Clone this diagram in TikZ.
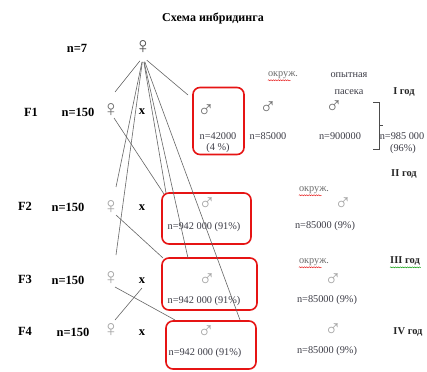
\documentclass[tikz,border=0pt]{standalone}
\usepackage{fontspec}
\setmainfont{Liberation Serif}
\usetikzlibrary{decorations.pathmorphing}
\definecolor{boxred}{RGB}{230,20,20}
\definecolor{txt}{RGB}{60,60,70}
\definecolor{symA}{RGB}{110,110,110}
\definecolor{symB}{RGB}{165,165,165}
\tikzset{
  lbl/.style={font=\bfseries\fontsize{12.5}{14}\selectfont, text=black, inner sep=0pt},
  yr/.style={font=\bfseries\fontsize{10.5}{12}\selectfont, text=black!85, inner sep=0pt},
  val/.style={font=\fontsize{10.3}{12}\selectfont, text=txt, inner sep=0pt},
  sym/.style={font=\fontsize{23}{24}\selectfont, inner sep=0pt},
  conn/.style={draw=black!60, line width=0.6pt},
  redbox/.style={draw=boxred, line width=1.6pt, rounded corners=7pt, inner sep=0pt},
  wavy/.style={decorate, decoration={snake, amplitude=0.5pt, segment length=2.4pt}, line width=0.45pt}
}
\begin{document}
\begin{tikzpicture}[x=1pt,y=-1pt]
\useasboundingbox (0,0) rectangle (427,371);
\fill[white] (0,0) rectangle (427,371);

% title
\node[lbl, font=\bfseries\fontsize{12}{14}\selectfont] (title) at (213,18) {Схема инбридинга};

% top row
\node[lbl] (n7) at (77,48) {n=7};
\node[sym, text=black!70] (fem0) at (143,47) {♀};
\coordinate (o0) at (143,57);

% row labels
\node[lbl] (F1) at (31,112) {F1};
\node[lbl] (F1n) at (78,112) {n=150};
\node[sym, text=symA] (fem1) at (111,110) {♀};
\node[lbl] (x1) at (142,112) {x};

\node[lbl] (F2) at (25,206) {F2};
\node[lbl] (F2n) at (68,207) {n=150};
\node[sym, text=symB] (fem2) at (111,207) {♀};
\node[lbl] (x2) at (142,208) {x};

\node[lbl] (F3) at (25,279) {F3};
\node[lbl] (F3n) at (68,280) {n=150};
\node[sym, text=symB] (fem3) at (111,278) {♀};
\node[lbl] (x3) at (142,281) {x};

\node[lbl] (F4) at (25,331) {F4};
\node[lbl] (F4n) at (73,332) {n=150};
\node[sym, text=symB] (fem4) at (111,330) {♀};
\node[lbl] (x4) at (142,333) {x};

% red boxes
\node[redbox, minimum width=51pt, minimum height=67pt] (box1) at (218.5,121) {};
\node[redbox, minimum width=89pt, minimum height=51pt] (box2) at (206.5,218.5) {};
\node[redbox, minimum width=95pt, minimum height=52pt] (box3) at (209.5,284) {};
\node[redbox, minimum width=90pt, minimum height=48pt] (box4) at (211,345) {};

% F1 contents
\node[sym, text=symA] (m1) at (206,111) {♂};
\node[val] (v1) at (218,136) {n=42000};
\node[val] (v1p) at (218,148) {(4 \%)};
\node[val, text=symA] (ok1) at (283,75) {окруж.};
\draw[boxred, wavy] (ok1.south west) ++(0,1.5) -- ++(23,0);
\node[sym, text=symA] (m1b) at (268,108) {♂};
\node[val] (v1b) at (268,136) {n=85000};
\node[val] (op) at (349,75) {опытная};
\node[val] (pas) at (349,92) {пасека};
\node[sym, text=symA] (m1c) at (334,107) {♂};
\node[val] (v1c) at (340,136) {n=900000};
\node[val] (v1d) at (402,136) {n=985 000};
\node[val] (v1dp) at (403,149) {(96\%)};
\node[yr] (y1) at (404,92) {I год};
\coordinate (bt) at (373,102);
\coordinate (bb) at (373,149);
\coordinate (bm) at (383,125);
\draw[black!70, line width=0.7pt] (bt) -- (379,102) -- (379,149) -- (bb);
\draw[black!70, line width=0.7pt] (379,125) -- (bm);

% F2 contents
\node[yr] (y2) at (404,174) {II год};
\node[sym, text=symB] (m2) at (207,204) {♂};
\node[val] (v2) at (204,227) {n=942 000 (91\%)};
\node[val, text=symA] (ok2) at (314,190) {окруж.};
\draw[boxred, wavy] (ok2.south west) ++(0,1.5) -- ++(23,0);
\node[sym, text=symB] (m2b) at (343,204) {♂};
\node[val] (v2b) at (325,226) {n=85000 (9\%)};

% F3 contents
\node[yr] (y3) at (405,261) {III год};
\draw[green!60!black, wavy] (y3.south west) ++(0,1.8) -- ++(31,0);
\node[sym, text=symB] (m3) at (207,280) {♂};
\node[val] (v3) at (204,301) {n=942 000 (91\%)};
\node[val, text=symA] (ok3) at (314,262) {окруж.};
\draw[boxred, wavy] (ok3.south west) ++(0,1.5) -- ++(23,0);
\node[sym, text=symB] (m3b) at (333,280) {♂};
\node[val] (v3b) at (327,300) {n=85000 (9\%)};

% F4 contents
\node[yr] (y4) at (408,332) {IV год};
\node[sym, text=symB] (m4) at (206,332) {♂};
\node[val] (v4) at (205,353) {n=942 000 (91\%)};
\node[sym, text=symB] (m4b) at (333,330) {♂};
\node[val] (v4b) at (327,351) {n=85000 (9\%)};

% free ends
\coordinate (e1) at (115,92);
\coordinate (e2) at (116,187);
\coordinate (e3) at (116,255);
\coordinate (e4) at (166,193);
\coordinate (e5) at (188,258);
\coordinate (e6) at (240,320);
\coordinate (e7) at (188,95);
\coordinate (f1) at (114,118);
\coordinate (g1) at (164,194);
\coordinate (f2) at (116,215);
\coordinate (g2) at (163,258);
\coordinate (f3) at (115,287);
\coordinate (g3) at (175,320);
\coordinate (f4) at (115,320);
\coordinate (g4) at (142,288);

% connectors
\foreach \e in {e1,e2,e3,e4,e5,e6,e7}
  \draw[conn, shorten <=5pt] (o0) -- (\e);
\draw[conn] (f1) -- (g1);
\draw[conn] (f2) -- (g2);
\draw[conn] (f3) -- (g3);
\draw[conn] (f4) -- (g4);
\end{tikzpicture}
\end{document}
